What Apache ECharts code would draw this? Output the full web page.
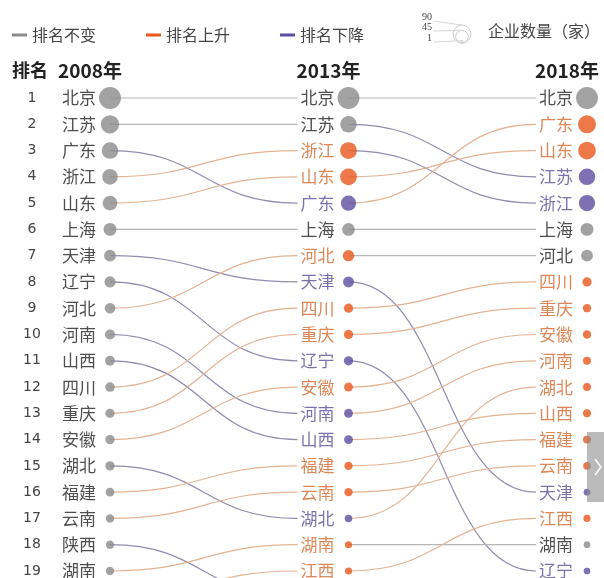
<!DOCTYPE html>
<html><head><meta charset="utf-8">
<script src="https://cdn.jsdelivr.net/npm/echarts@6/dist/echarts.min.js"></script>
<style>html,body{margin:0;padding:0;background:#fff}#c{width:604px;height:578px}</style>
</head><body><div id="c"></div>
<script>
const years = ['2008年','2013年','2018年'];
const rankLabels = ['1','2','3','4','5','6','7','8','9','10','11','12','13','14','15','16','17','18','19','20'];
const legendNames = ['排名不变','排名上升','排名下降'];
const sizeLegendValues = [90, 45, 1];
const sizeLegendTitle = '企业数量（家）';

const names2008 = ['北京','江苏','广东','浙江','山东','上海','天津','辽宁','河北','河南','山西','四川','重庆','安徽','湖北','福建','云南','陕西','湖南','江西'];
const counts2008 = [90,60,48,42,37,27,22,19,17,15,14,13,12,12,12,10,9,9,9,7];
const names2013 = ['北京','江苏','浙江','山东','广东','上海','河北','天津','四川','重庆','辽宁','安徽','河南','山西','福建','云南','湖北','湖南','江西','陕西'];
const counts2013 = [90,48,50,50,40,26,20,18,12,12,12,11,11,11,9,9,7,6,6,5];
const names2018 = ['北京','广东','山东','江苏','浙江','上海','河北','四川','重庆','安徽','河南','湖北','山西','福建','云南','天津','江西','湖南','辽宁'];
const counts2018 = [90,58,56,48,46,27,22,12,9,9,8,8,8,8,7,5,6,5,5];

const cols = [names2008, names2013, names2018];
const cnts = [counts2008, counts2013, counts2018];
const FONT = '"Noto Sans CJK SC", "Noto Sans", sans-serif';
const C = {
  same: {dot:'#8c8b8b', text:'#222222', line:'#b5b5b5'},
  up:   {dot:'#e8581d', text:'#d4692c', line:'#e3b393'},
  down: {dot:'#5c4ea0', text:'#5a4f98', line:'#918bb0'}
};
function sz(v){ return 2 + 2.1*Math.sqrt(v); }
function status(ci, name){
  if (ci === 0) return 'same';
  const prev = cols[ci-1].indexOf(name), cur = cols[ci].indexOf(name);
  if (prev < 0) return 'up';
  return cur < prev ? 'up' : (cur > prev ? 'down' : 'same');
}

const dots = [];
cols.forEach((names, ci) => {
  names.forEach((n, i) => {
    const s = status(ci, n); const d = sz(cnts[ci][i]);
    dots.push({
      value: [ci, i+1, cnts[ci][i]], name: n,
      symbolSize: d,
      itemStyle: {color: C[s].dot},
      label: {show: true, position: 'left', distance: 14 - d/2, formatter: n,
        color: C[s].text, fontSize: 17, fontFamily: FONT}
    });
  });
});

const links = []; const linkStatus = [];
for (let ci = 0; ci < 2; ci++) {
  cols[ci].forEach((n, i) => {
    const j = cols[ci+1].indexOf(n);
    if (j >= 0) { links.push([ci, i+1, ci+1, j+1]); linkStatus.push(status(ci+1, n)); }
  });
}

const sizeLegendGraphics = [];
(function(){
  const cx = 462, bottom = 43;
  const labelY = [17, 27, 38];
  sizeLegendValues.forEach((v, k) => {
    const r = Math.max(1.2, (sz(v) - 2)/2 * 0.9);
    const cy = bottom - r;
    sizeLegendGraphics.push({type:'circle', shape:{cx:cx, cy:cy, r:r}, style:{fill:'none', stroke:'#cfcfcf', lineWidth:1}});
    sizeLegendGraphics.push({type:'polyline', shape:{points:[[434, labelY[k] + 4], [cx, cy - r]]}, style:{stroke:'#d8d8d8', lineWidth:1, fill:'none'}});
    sizeLegendGraphics.push({type:'text', x:432, y:labelY[k], style:{text:String(v), fontSize:10, fill:'#444', align:'right', verticalAlign:'middle', fontFamily:'"Liberation Serif", serif'}});
  });
})();

const chart = echarts.init(document.getElementById('c'));
chart.setOption({
  animation: false,
  backgroundColor: '#fff',
  grid: {left: 110, right: 17, top: 98, bottom: 7, containLabel: false},
  legend: {
    data: legendNames, left: 7, top: 22, itemGap: 50, icon: 'rect', itemWidth: 15, itemHeight: 3,
    textStyle: {fontSize: 16, color: '#444', fontFamily: FONT}
  },
  xAxis: {
    type: 'value', min: 0, max: 2, interval: 1, position: 'top',
    axisLine: {show: false}, axisTick: {show: false}, splitLine: {show: false},
    axisLabel: {formatter: v => years[v], fontSize: 19, fontWeight: 'bold', color: '#222',
      fontFamily: FONT, margin: 18, padding: [0, 40, 0, 0]}
  },
  yAxis: {
    type: 'value', inverse: true, min: 1, max: 19, interval: 1,
    axisLine: {show: false}, axisTick: {show: false}, splitLine: {show: false},
    axisLabel: {formatter: v => rankLabels[v-1], margin: 78, align: 'center', fontSize: 14,
      color: '#444', fontFamily: '"DejaVu Sans", sans-serif'}
  },
  graphic: [
    {type:'text', left: 12, top: 61, style:{text:'排名', font:'bold 18px ' + FONT, fill:'#222'}},
    {type:'text', x: 488, y: 31, style:{text: sizeLegendTitle, fontSize: 16, fill:'#444', verticalAlign:'middle', fontFamily: FONT}},
    ...sizeLegendGraphics,
    {type:'rect', shape:{x:587, y:432, width:17, height:70}, style:{fill:'rgba(140,140,140,0.6)'}, z: 100},
    {type:'polyline', shape:{points:[[595,459],[601,467],[595,475]]}, style:{stroke:'#fff', lineWidth:1.5, fill:'none'}, z: 101}
  ],
  series: [
    {name: legendNames[0], type:'line', data: [], color: C.same.dot, lineStyle:{color: C.same.dot}},
    {name: legendNames[1], type:'line', data: [], color: C.up.dot, lineStyle:{color: C.up.dot}},
    {name: legendNames[2], type:'line', data: [], color: C.down.dot, lineStyle:{color: C.down.dot}},
    {
      type: 'custom', clip: false, z: 1, data: links,
      renderItem: function(params, api){
        const p0 = api.coord([api.value(0), api.value(1)]);
        const p1 = api.coord([api.value(2), api.value(3)]);
        p1[0] -= 51;
        const mx = (p0[0] + p1[0]) / 2;
        return {type:'bezierCurve',
          shape:{x1:p0[0], y1:p0[1], x2:p1[0], y2:p1[1], cpx1:mx, cpy1:p0[1], cpx2:mx, cpy2:p1[1]},
          style:{stroke: C[linkStatus[params.dataIndex]].line, lineWidth: 1.2, fill: null}};
      }
    },
    {type:'scatter', clip: false, z: 3, data: dots, emphasis:{disabled:true}}
  ]
});
</script></body></html>
